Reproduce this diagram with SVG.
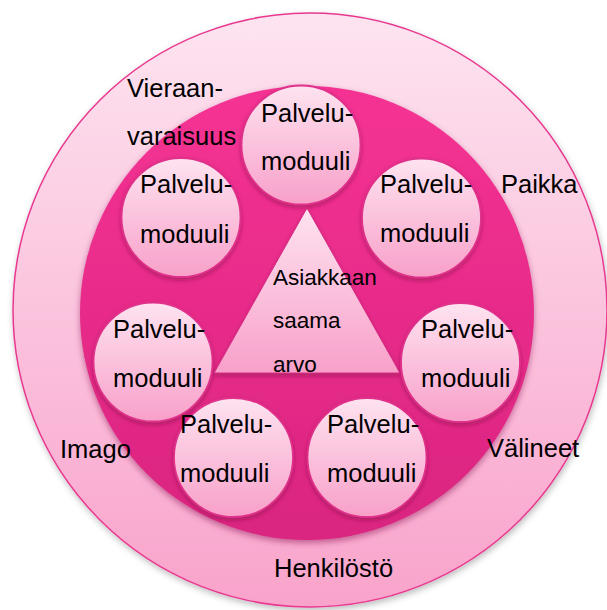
<svg xmlns="http://www.w3.org/2000/svg" width="607" height="610" viewBox="0 0 607 610">
<defs>
<linearGradient id="gOuter" x1="0" y1="0" x2="0" y2="1">
<stop offset="0" stop-color="#fde4f0"/>
<stop offset="1" stop-color="#f9a3cb"/>
</linearGradient>
<linearGradient id="gInner" x1="0" y1="0" x2="0" y2="1">
<stop offset="0" stop-color="#f53293"/>
<stop offset="1" stop-color="#da2580"/>
</linearGradient>
<linearGradient id="gLight" x1="0" y1="0" x2="0" y2="1">
<stop offset="0" stop-color="#fee3f0"/>
<stop offset="1" stop-color="#f8a0c9"/>
</linearGradient>
<filter id="shOuter" x="-10%" y="-10%" width="120%" height="125%">
<feDropShadow dx="1" dy="3" stdDeviation="3" flood-color="#000000" flood-opacity="0.25"/>
</filter>
<filter id="shInner" x="-10%" y="-10%" width="120%" height="125%">
<feDropShadow dx="0" dy="3" stdDeviation="3" flood-color="#7a0a44" flood-opacity="0.45"/>
</filter>
<filter id="shNode" x="-20%" y="-20%" width="140%" height="145%">
<feDropShadow dx="0" dy="2.5" stdDeviation="2" flood-color="#8a0c4e" flood-opacity="0.55"/>
</filter>
</defs>
<style>
.node { fill: url(#gLight); stroke: #e0308a; stroke-width: 1.8; filter: url(#shNode); }
.t { font-family: "Liberation Sans", Arial, sans-serif; font-size: 25.5px; fill: #000000; }
.tri { font-family: "Liberation Sans", Arial, sans-serif; font-size: 22.5px; fill: #000000; }
</style>

<g id="outer-ring">
<circle cx="310" cy="310" r="297" fill="url(#gOuter)" stroke="#e8398f" stroke-width="1.5" filter="url(#shOuter)"/>
</g>

<g id="inner-ring">
<circle cx="307" cy="313" r="227" fill="url(#gInner)" filter="url(#shInner)"/>
</g>

<g id="value-triangle">
<polygon points="307,208 400,373 214,373" fill="url(#gLight)" stroke="#d82c84" stroke-width="1" filter="url(#shNode)"/>
</g>

<g id="module-top">
<circle class="node" cx="301" cy="145" r="59.5"/>
<text class="t" x="261" y="122">Palvelu-</text>
<text class="t" x="261" y="170">moduuli</text>
</g>

<g id="module-upper-left">
<circle class="node" cx="181" cy="217.5" r="59.5"/>
<text class="t" x="140" y="193">Palvelu-</text>
<text class="t" x="140" y="243">moduuli</text>
</g>

<g id="module-upper-right">
<circle class="node" cx="421.5" cy="218" r="59.5"/>
<text class="t" x="380" y="193">Palvelu-</text>
<text class="t" x="380" y="242">moduuli</text>
</g>

<g id="module-mid-left">
<circle class="node" cx="153" cy="362" r="59.5"/>
<text class="t" x="113" y="338">Palvelu-</text>
<text class="t" x="113" y="387">moduuli</text>
</g>

<g id="module-mid-right">
<circle class="node" cx="460.5" cy="362.5" r="59.5"/>
<text class="t" x="421" y="338">Palvelu-</text>
<text class="t" x="421" y="387">moduuli</text>
</g>

<g id="module-bottom-left">
<circle class="node" cx="233.5" cy="457.5" r="59.5"/>
<text class="t" x="180" y="433">Palvelu-</text>
<text class="t" x="180" y="482">moduuli</text>
</g>

<g id="module-bottom-right">
<circle class="node" cx="367" cy="457.5" r="59.5"/>
<text class="t" x="327" y="433">Palvelu-</text>
<text class="t" x="327" y="482">moduuli</text>
</g>

<g id="value-label">
<text class="tri" x="273" y="285">Asiakkaan</text>
<text class="tri" x="273" y="328">saama</text>
<text class="tri" x="273" y="372">arvo</text>
</g>

<g id="label-vieraanvaraisuus">
<text class="t" x="127" y="97">Vieraan-</text>
<text class="t" x="127" y="145">varaisuus</text>
</g>
<g id="label-paikka">
<text class="t" x="501" y="193">Paikka</text>
</g>
<g id="label-imago">
<text class="t" x="60" y="458">Imago</text>
</g>
<g id="label-valineet">
<text class="t" x="487" y="457">Välineet</text>
</g>
<g id="label-henkilosto">
<text class="t" x="274" y="577">Henkilöstö</text>
</g>
</svg>
